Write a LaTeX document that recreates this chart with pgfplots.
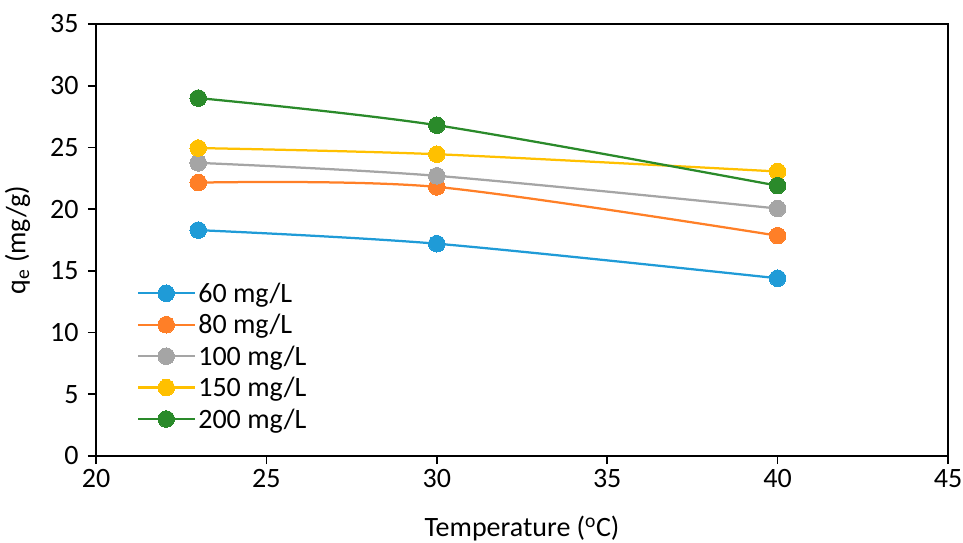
\documentclass[border=0pt]{standalone}
\usepackage{fontspec}
\setmainfont{Carlito}
\usepackage{pgfplots}
\pgfplotsset{compat=1.18}

\definecolor{cblue}{HTML}{1F9BD7}
\definecolor{corange}{HTML}{FF7F27}
\definecolor{cgray}{HTML}{A5A5A5}
\definecolor{cyellow}{HTML}{FFC000}
\definecolor{cgreen}{HTML}{2A8A2A}

\pgfplotsset{
  series/.style={smooth, tension=0.5, line width=2.25pt, color=#1,
                 mark=*, mark size=8.3pt, mark options={fill=#1, draw=#1, line width=0pt}},
}

\begin{document}
\begin{tikzpicture}
\begin{axis}[
  scale only axis,
  width=852pt, height=432pt,
  xmin=20, xmax=45, ymin=0, ymax=35,
  xtick={20,25,...,45}, ytick={0,5,...,35},
  tick align=outside, xtick pos=bottom, ytick pos=left,
  major tick length=8pt,
  axis line style={line width=1.75pt, black},
  every tick/.style={line width=1.75pt, black},
  font=\fontsize{28}{32}\selectfont,
  tick label style={font=\fontsize{28}{32}\selectfont},
  /pgf/number format/assume math mode=true,
  xticklabel style={yshift=-2pt},
  yticklabel style={xshift=-6pt},
  xlabel={Temperature (\textsuperscript{o}C)},
  ylabel={q\textsubscript{e} (mg/g)},
  every axis x label/.style={at={(axis description cs:0.5,-0.167)}, anchor=center},
  every axis y label/.style={at={(axis description cs:-0.092,0.5)}, rotate=90, anchor=center},
  legend style={draw=none, fill=none, at={(axis description cs:0.048,0.406)}, anchor=north west,
                font=\fontsize{28}{32}\selectfont, row sep=6.5pt, inner sep=0pt,
                nodes={inner sep=2pt}},
  legend cell align=left,
  legend image code/.code={\draw[#1, mark repeat=2, mark phase=2] plot coordinates {(0pt,0pt) (28pt,0pt) (57pt,0pt)};},
]
\coordinate (O) at (rel axis cs:0,0);
\addplot[series=cblue] coordinates {(23,18.3) (30,17.2) (40,14.4)};
\addlegendentry{60 mg/L}
\addplot[series=corange] coordinates {(23,22.15) (30,21.8) (40,17.85)};
\addlegendentry{80 mg/L}
\addplot[series=cgray] coordinates {(23,23.75) (30,22.7) (40,20.05)};
\addlegendentry{100 mg/L}
\addplot[series=cyellow] coordinates {(23,24.95) (30,24.45) (40,23.05)};
\addlegendentry{150 mg/L}
\addplot[series=cgreen] coordinates {(23,29.0) (30,26.8) (40,21.9)};
\addlegendentry{200 mg/L}
\end{axis}
\pgfresetboundingbox
\path ([shift={(-96pt,-86pt)}]O) rectangle ([shift={(867pt,456pt)}]O);
\end{tikzpicture}
\end{document}
